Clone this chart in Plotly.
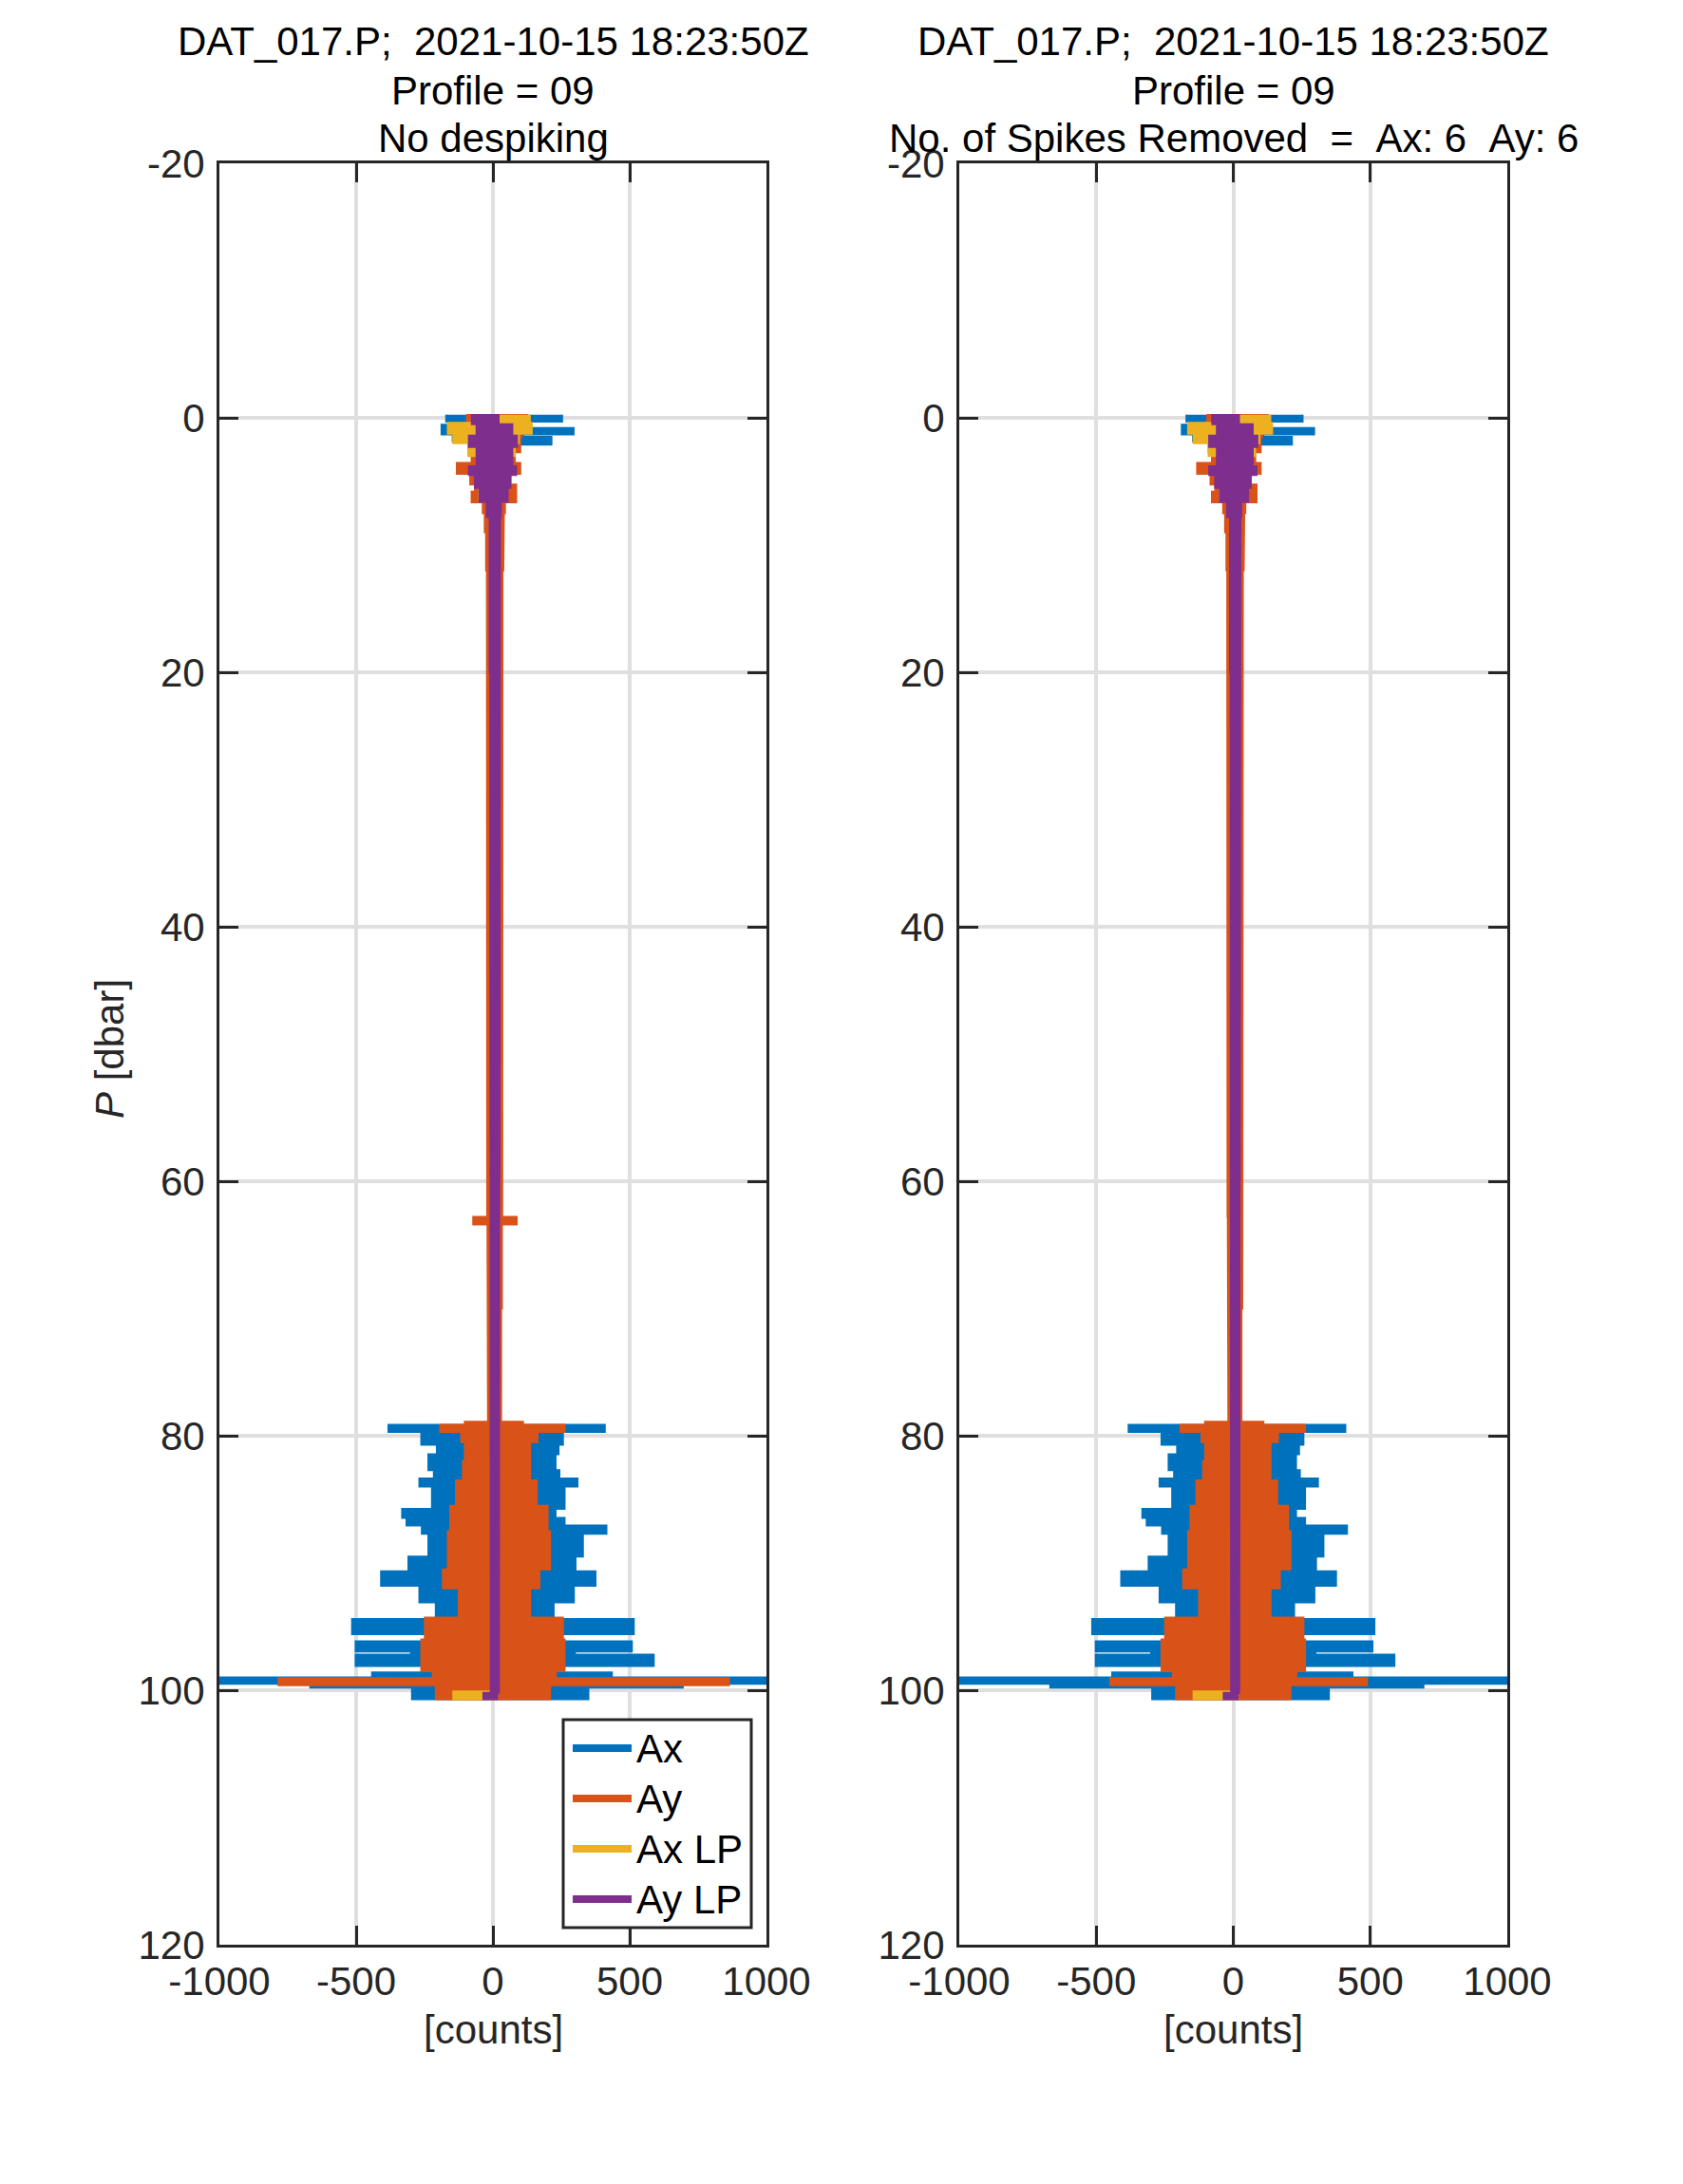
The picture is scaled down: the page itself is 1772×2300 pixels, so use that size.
import plotly.graph_objects as go

W, H = 1772, 2300
OFF = 8  # page body margin in the browser

# ---------------- data ----------------
# Each series: pressure band edges [dbar] and the min / max of the signal in each band [counts]
ax_edges = [-0.25, 0.3, 0.55, 0.8, 1.3, 1.5, 1.85, 2.1, 6.5, 79.15, 79.7, 80.7, 81.45,
            82.7, 83.35, 84.0, 85.75, 86.45, 87.05, 87.7, 89.5, 90.65, 91.8, 93.1, 94.4,
            95.6, 96.15, 96.95, 97.2, 98.1, 98.6, 99.0, 99.5, 99.8, 100.7]
ax_lo = [-171, -60, -188, -188, -147, -147, -60, -55, -15, -382, -262, -205, -236,
         -216, -269, -223, -332, -316, -260, -236, -309, -409, -269, -209, -515,
         -196, -502, -300, -502, -236, -442, -1250, -668, -296]
ax_hi = [253, 120, 120, 295, 110, 214, 214, 55, 25, 409, 256, 240, 229,
         243, 309, 262, 229, 262, 415, 329, 302, 375, 296, 222, 515,
         216, 508, 300, 588, 209, 435, 1300, 694, 349]

ay_edges = [-0.3, 0.4, 1.5, 1.9, 2.7, 3.55, 4.4, 5.25, 5.8, 6.65, 7.5, 9, 12, 16, 22, 30,
            38, 46, 54, 62.8, 63.4, 70, 78.9, 79.15, 79.7, 80.5, 82, 83.5, 85.5, 87.5,
            90.5, 92, 94.3, 96, 98.5, 99.05, 99.6, 100.7]
ay_lo = [-95, -100, -95, -90, -78, -132, -83, -66, -78, -37, -30, -25, -22, -20, -22,
         -20, -22, -20, -21, -72, -20, -18, -103, -193, -116, -103, -110, -135, -156,
         -165, -183, -125, -249, -262, -220, -784, -209]
ay_hi = [125, 105, 100, 100, 80, 100, 64, 85, 85, 44, 40, 38, 35, 33, 35,
         33, 34, 33, 34, 87, 33, 30, 110, 262, 163, 136, 136, 160, 200,
         209, 170, 136, 256, 262, 230, 863, 209]
# despiked Ay (right panel)
ayd_lo = [-95, -100, -95, -90, -78, -132, -83, -66, -78, -37, -30, -25, -22, -20, -22,
          -20, -22, -20, -21, -20, -20, -18, -103, -193, -116, -103, -110, -135, -156,
          -165, -183, -125, -249, -262, -220, -449, -209]
ayd_hi = [125, 105, 100, 100, 80, 100, 64, 85, 85, 44, 40, 38, 35, 33, 35,
          33, 34, 33, 34, 33, 33, 30, 110, 262, 163, 136, 136, 160, 200,
          209, 170, 136, 256, 262, 230, 488, 209]

axlp_edges = [-0.25, 0.4, 1.25, 2.0, 3.0, 6.5, 100.1, 100.7]
axlp_lo = [-60, -165, -145, -90, -50, -5, -145]
axlp_hi = [135, 142, 95, 80, 50, 20, 10]

aylp_edges = [-0.3, 0.5, 1.4, 2.3, 3.8, 4.5, 5.5, 6.6, 7.8, 20, 40, 60, 80, 100.2, 100.7]
aylp_lo = [-77, -60, -88, -60, -88, -66, -49, -23, -12, -10, -9, -9, -8, -35]
aylp_hi = [21, 71, 88, 71, 85, 64, 54, 29, 26, 24, 24, 23, 22, 15]

series_names = ["Ax", "Ay", "Ax LP", "Ay LP"]
colors = ["#0072BD", "#D95319", "#EDB120", "#7E2F8E"]

x_ticks = [-1000, -500, 0, 500, 1000]
x_ticktext = ["-1000", "-500", "0", "500", "1000"]
y_ticks = [-20, 0, 20, 40, 60, 80, 100, 120]
y_ticktext = ["-20", "0", "20", "40", "60", "80", "100", "120"]

title_l = ["DAT_017.P;\u00a0\u00a02021-10-15 18:23:50Z", "Profile = 09", "No despiking"]
title_r = ["DAT_017.P;\u00a0\u00a02021-10-15 18:23:50Z", "Profile = 09",
           "No. of Spikes Removed\u00a0\u00a0=\u00a0\u00a0Ax: 6\u00a0\u00a0Ay: 6"]

# ---------------- helpers ----------------
FW, FH = W - OFF, H - OFF


def band_polygon(edges, lo, hi):
    xs, ys = [], []
    for i in range(len(hi)):
        xs += [hi[i], hi[i]]
        ys += [edges[i], edges[i + 1]]
    for i in reversed(range(len(lo))):
        xs += [lo[i], lo[i]]
        ys += [edges[i + 1], edges[i]]
    return xs, ys


def px(x):
    return (x - OFF) / FW


def py(y):
    return 1 - (y - OFF) / FH


FONT = "Liberation Sans, Arial, Helvetica, sans-serif"
DARK = "#262626"
FS = 42

fig = go.Figure()

panels = [
    ("x", "y", [(ax_edges, ax_lo, ax_hi), (ay_edges, ay_lo, ay_hi),
                (axlp_edges, axlp_lo, axlp_hi), (aylp_edges, aylp_lo, aylp_hi)]),
    ("x2", "y2", [(ax_edges, ax_lo, ax_hi), (ay_edges, ayd_lo, ayd_hi),
                  (axlp_edges, axlp_lo, axlp_hi), (aylp_edges, aylp_lo, aylp_hi)]),
]
for xa, ya, sers in panels:
    for (edges, lo, hi), name, c in zip(sers, series_names, colors):
        xs, ys = band_polygon(edges, lo, hi)
        fig.add_trace(go.Scatter(x=xs, y=ys, mode="lines", fill="toself",
                                 fillcolor=c, line=dict(color=c, width=2),
                                 name=name, showlegend=False, hoverinfo="skip",
                                 xaxis=xa, yaxis=ya))

xdom_l = [px(231), px(807)]
xdom_r = [px(1010), px(1587)]
ydom = [py(2048), py(172)]

axis_common = dict(showline=True, linecolor=DARK, linewidth=3, mirror="ticks",
                   ticks="inside", ticklen=20, tickwidth=3, tickcolor=DARK,
                   showgrid=True, gridcolor="#DFDFDF", gridwidth=3.5, zeroline=False,
                   automargin=False,
                   tickfont=dict(family=FONT, size=FS, color=DARK))
xaxis_common = dict(range=[-1000, 1000], tickvals=x_ticks, ticktext=x_ticktext,
                    ticklabelstandoff=0, **axis_common)
yaxis_common = dict(domain=ydom, range=[120, -20], tickvals=y_ticks, ticktext=y_ticktext,
                    ticklabelstandoff=4, **axis_common)

fig.update_layout(
    width=FW, height=FH, paper_bgcolor="white", plot_bgcolor="white",
    margin=dict(l=0, r=0, t=0, b=0, autoexpand=False), showlegend=False,
    xaxis=dict(domain=xdom_l, anchor="y", **xaxis_common),
    yaxis=dict(anchor="x", **yaxis_common),
    xaxis2=dict(domain=xdom_r, anchor="y2", **xaxis_common),
    yaxis2=dict(anchor="x2", **yaxis_common),
)

ann = []
title_y = [44, 95, 145]
for cx, lines in ((519, title_l), (1298.5, title_r)):
    for ty, txt in zip(title_y, lines):
        ann.append(dict(x=px(cx), y=py(ty), xref="paper", yref="paper", text=txt,
                        showarrow=False, xanchor="center", yanchor="middle",
                        font=dict(family=FONT, size=FS, color="black")))
for cx in (519, 1298.5):
    ann.append(dict(x=px(cx), y=py(2137), xref="paper", yref="paper", text="[counts]",
                    showarrow=False, xanchor="center", yanchor="middle",
                    font=dict(family=FONT, size=FS, color=DARK)))
ann.append(dict(x=px(115), y=py(1105), xref="paper", yref="paper",
                text="<i>P</i> [dbar]", textangle=-90, showarrow=False,
                xanchor="center", yanchor="middle",
                font=dict(family=FONT, size=FS, color=DARK)))

# legend (left panel)
shapes = [dict(type="rect", xref="paper", yref="paper", x0=px(593), x1=px(791),
               y0=py(2030), y1=py(1811), line=dict(color=DARK, width=3),
               fillcolor="white", layer="above")]
leg_y = [1841, 1894, 1947, 2000]
for ly, name, c in zip(leg_y, series_names, colors):
    shapes.append(dict(type="line", xref="paper", yref="paper", x0=px(603), x1=px(665),
                       y0=py(ly), y1=py(ly), line=dict(color=c, width=8), layer="above"))
    ann.append(dict(x=px(668), y=py(ly), xref="paper", yref="paper", text=name,
                    showarrow=False, xanchor="left", yanchor="middle",
                    font=dict(family=FONT, size=FS, color="black")))

fig.update_layout(annotations=ann, shapes=shapes)
fig.write_html("out.html")
